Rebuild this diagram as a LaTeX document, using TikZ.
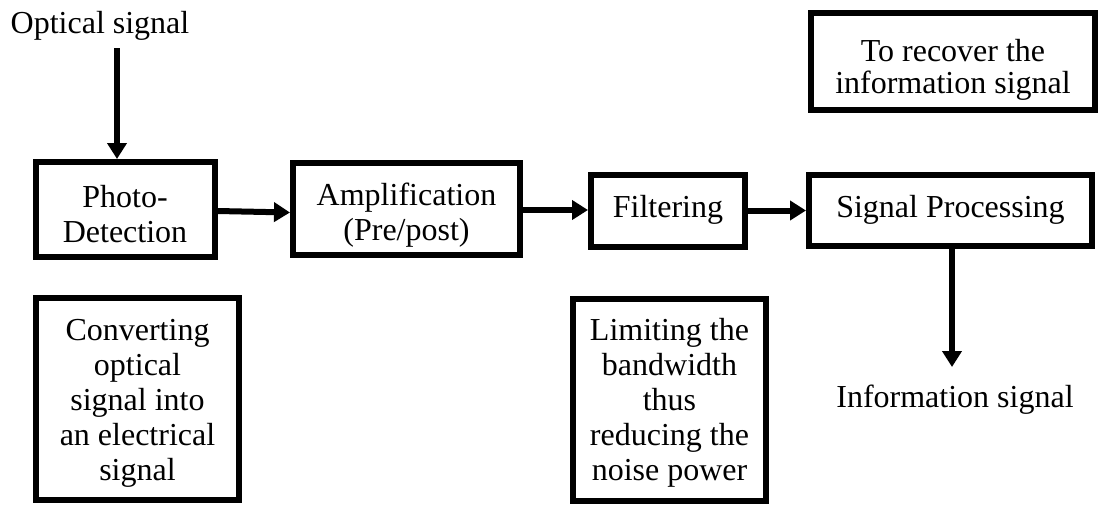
\documentclass[tikz,border=0pt]{standalone}
\usepackage{fontspec}
\setmainfont{Liberation Serif}
\usetikzlibrary{arrows.meta}
\newcommand{\topstrut}{\rule{0pt}{24.5pt}}
\begin{document}
\begin{tikzpicture}[x=1pt,y=-1pt,
  txt/.style={font=\fontsize{32}{35}\selectfont, align=center, inner sep=0pt, outer sep=0pt, anchor=north},
  blk/.style={draw, line width=6pt, outer sep=3pt, inner sep=0pt},
  arr/.style={line width=6pt, -{Triangle[length=16pt,width=19pt]}}]
\useasboundingbox (0,0) rectangle (1099,506);
% blocks (box outlines)
\node[blk, minimum width=179pt, minimum height=95pt] (photo) at (125,209.5) {};
\node[blk, minimum width=227pt, minimum height=92pt] (amp) at (406.5,209) {};
\node[blk, minimum width=154pt, minimum height=72pt] (filt) at (668,211) {};
\node[blk, minimum width=283pt, minimum height=71pt] (sp) at (950.5,210.5) {};
\node[blk, minimum width=284pt, minimum height=97pt] (rec) at (953,61.5) {};
\node[blk, minimum width=203pt, minimum height=202pt] (conv) at (137.5,399) {};
\node[blk, minimum width=193pt, minimum height=202pt] (lim) at (669.5,400) {};
% texts (placed by first baseline minus 24.5)
\node[txt] (photot) at (125,182.5) {\topstrut Photo-\\Detection};
\node[txt] (ampt) at (406.5,180.5) {\topstrut Amplification\\(Pre/post)};
\node[txt] (filtt) at (668,192.5) {\topstrut Filtering};
\node[txt] (spt) at (950.5,192.5) {\topstrut Signal Processing};
\node[txt, font=\fontsize{32}{32}\selectfont] (rect) at (953,37) {\topstrut To recover the\\information signal};
\node[txt] (convt) at (137.5,315.5) {\topstrut Converting\\optical\\signal into\\an electrical\\signal};
\node[txt] (limt) at (669.5,315.5) {\topstrut Limiting the\\bandwidth\\thus\\reducing the\\noise power};
\node[txt] (opt) at (100,8.5) {\topstrut Optical signal};
\node[txt] (info) at (955,382.5) {\topstrut Information signal};
\coordinate (optfoot) at (117,48);
\coordinate (infotip) at (952,367);
% connectors
\draw[arr] (optfoot) -- (optfoot |- photo.north);
\draw[arr] ([yshift=-1.5pt]photo.east) -- ([yshift=-3.5pt]amp.west);
\draw[arr] ([yshift=-1pt]amp.east) -- ([yshift=-1pt]amp.east -| filt.west);
\draw[arr] ([yshift=0.5pt]filt.east) -- ([yshift=0.5pt]filt.east -| sp.west);
\draw[arr] (infotip |- sp.south) -- (infotip);
\end{tikzpicture}
\end{document}
